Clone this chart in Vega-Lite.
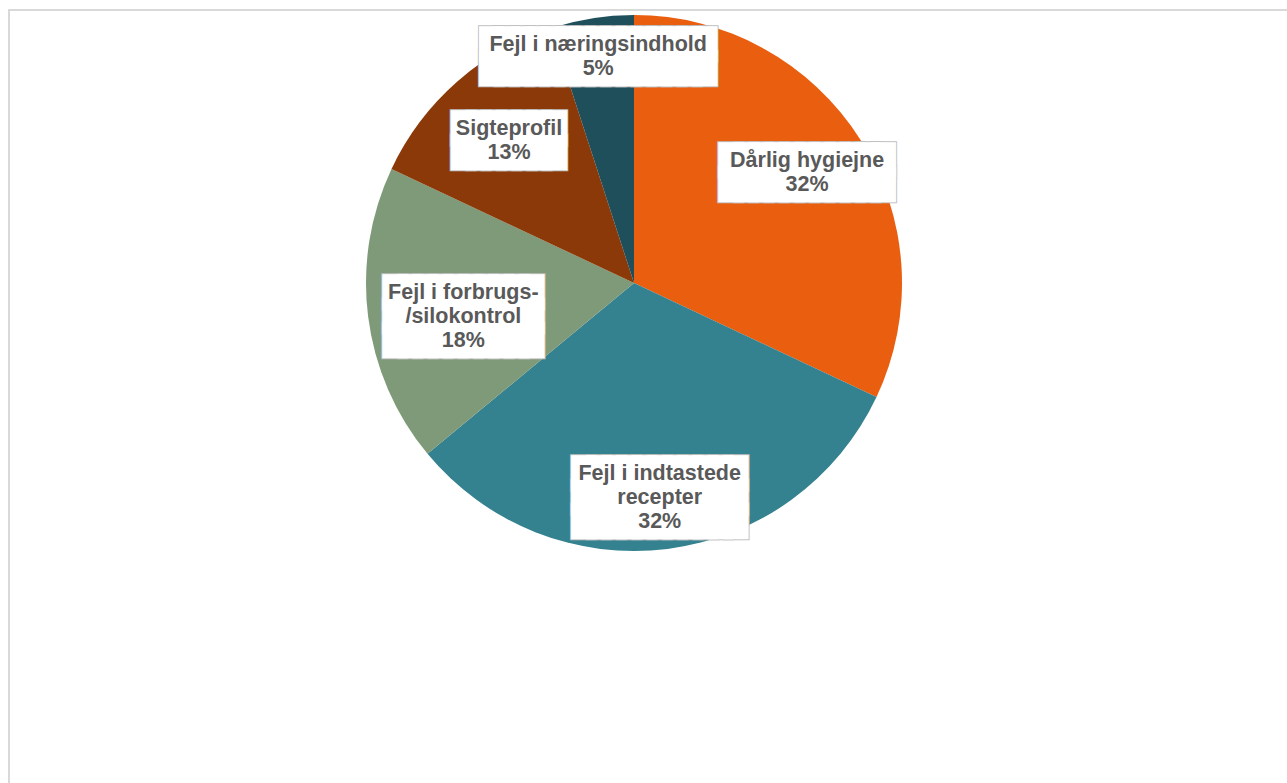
{
  "$schema": "https://vega.github.io/schema/vega-lite/v6.json",
  "width": 1278,
  "height": 773,
  "autosize": {"type": "none"},
  "padding": {"left": 9, "top": 10, "right": 0, "bottom": 0},
  "background": "white",
  "config": {
    "view": {"stroke": "#D9D9D9", "strokeWidth": 2, "strokeDash": [1278, 2051, 773]}
  },
  "data": {
    "values": [
      {"rank": 1, "label": "Dårlig hygiejne", "value": 32},
      {"rank": 2, "label": "Fejl i indtastede\nrecepter", "value": 32},
      {"rank": 3, "label": "Fejl i forbrugs-\n/silokontrol", "value": 18},
      {"rank": 4, "label": "Sigteprofil", "value": 13},
      {"rank": 5, "label": "Fejl i næringsindhold", "value": 5}
    ]
  },
  "transform": [
    {"stack": "value", "sort": [{"field": "rank", "order": "ascending"}], "groupby": [], "as": ["t0", "t1"]},
    {"calculate": "(datum.t0 + datum.t1) / 2", "as": "mid"}
  ],
  "encoding": {
    "x": {"value": 625},
    "y": {"value": 273}
  },
  "layer": [
    {
      "mark": {"type": "arc", "outerRadius": 268},
      "encoding": {
        "theta": {"field": "t0", "type": "quantitative", "scale": {"domain": [0, 100]}},
        "theta2": {"field": "t1"},
        "color": {
          "field": "label",
          "type": "nominal",
          "scale": {
            "domain": ["Dårlig hygiejne", "Fejl i indtastede\nrecepter", "Fejl i forbrugs-\n/silokontrol", "Sigteprofil", "Fejl i næringsindhold"],
            "range": ["#E95E0F", "#34818F", "#7F9A78", "#8B3908", "#1F4F5A"]
          },
          "legend": null
        }
      }
    },
    {
      "transform": [
        {"calculate": "pad('', round(0.88 * max(0.5 * length(split(datum.label, '\\n')[0]) + 0.5 * length(replace(split(datum.label, '\\n')[0], regexp('[ijlfrt /-]', 'g'), '')), 0.5 * length(split(datum.label, '\\n')[1] || '') + 0.5 * length(replace(split(datum.label, '\\n')[1] || '', regexp('[ijlfrt /-]', 'g'), '')))), '█')", "as": "bar"},
        {"calculate": "datum.bar + '\\n' + datum.bar + (length(split(datum.label, '\\n')) > 1 ? '\\n' + datum.bar : '')", "as": "box"}
      ],
      "mark": {
        "type": "text", "font": "Liberation Sans", "fontWeight": "bold", "dy": -12,
        "fontSize": 21.5, "lineHeight": 24, "lineBreak": "\n", "align": "center", "baseline": "middle",
        "fill": "#BFBFBF", "stroke": "#BFBFBF", "strokeWidth": 12, "strokeJoin": "miter"
      },
      "encoding": {
        "theta": {"field": "mid", "type": "quantitative", "stack": null, "scale": {"domain": [0, 100]}},
        "text": {"field": "box", "type": "nominal"},
        "radius": {"field": "rank", "type": "quantitative", "scale": {"domain": [1, 2, 3, 4, 5], "range": [205, 205, 172, 189, 229], "zero": false}}
      }
    },
    {
      "transform": [
        {"calculate": "pad('', round(0.88 * max(0.5 * length(split(datum.label, '\\n')[0]) + 0.5 * length(replace(split(datum.label, '\\n')[0], regexp('[ijlfrt /-]', 'g'), '')), 0.5 * length(split(datum.label, '\\n')[1] || '') + 0.5 * length(replace(split(datum.label, '\\n')[1] || '', regexp('[ijlfrt /-]', 'g'), '')))), '█')", "as": "bar"},
        {"calculate": "datum.bar + '\\n' + datum.bar + (length(split(datum.label, '\\n')) > 1 ? '\\n' + datum.bar : '')", "as": "box"}
      ],
      "mark": {
        "type": "text", "font": "Liberation Sans", "fontWeight": "bold", "dy": -12,
        "fontSize": 21.5, "lineHeight": 24, "lineBreak": "\n", "align": "center", "baseline": "middle",
        "fill": "white", "stroke": "white", "strokeWidth": 10, "strokeJoin": "miter"
      },
      "encoding": {
        "theta": {"field": "mid", "type": "quantitative", "stack": null, "scale": {"domain": [0, 100]}},
        "text": {"field": "box", "type": "nominal"},
        "radius": {"field": "rank", "type": "quantitative", "scale": {"domain": [1, 2, 3, 4, 5], "range": [205, 205, 172, 189, 229], "zero": false}}
      }
    },
    {
      "transform": [{"calculate": "datum.label + '\\n' + datum.value + '%'", "as": "txt"}],
      "mark": {
        "type": "text", "font": "Liberation Sans", "fontWeight": "bold", "dy": -12,
        "fontSize": 21.5, "lineHeight": 24, "lineBreak": "\n", "align": "center", "baseline": "middle",
        "fill": "#595959"
      },
      "encoding": {
        "theta": {"field": "mid", "type": "quantitative", "stack": null, "scale": {"domain": [0, 100]}},
        "text": {"field": "txt", "type": "nominal"},
        "radius": {"field": "rank", "type": "quantitative", "scale": {"domain": [1, 2, 3, 4, 5], "range": [205, 205, 172, 189, 229], "zero": false}}
      }
    }
  ]
}
